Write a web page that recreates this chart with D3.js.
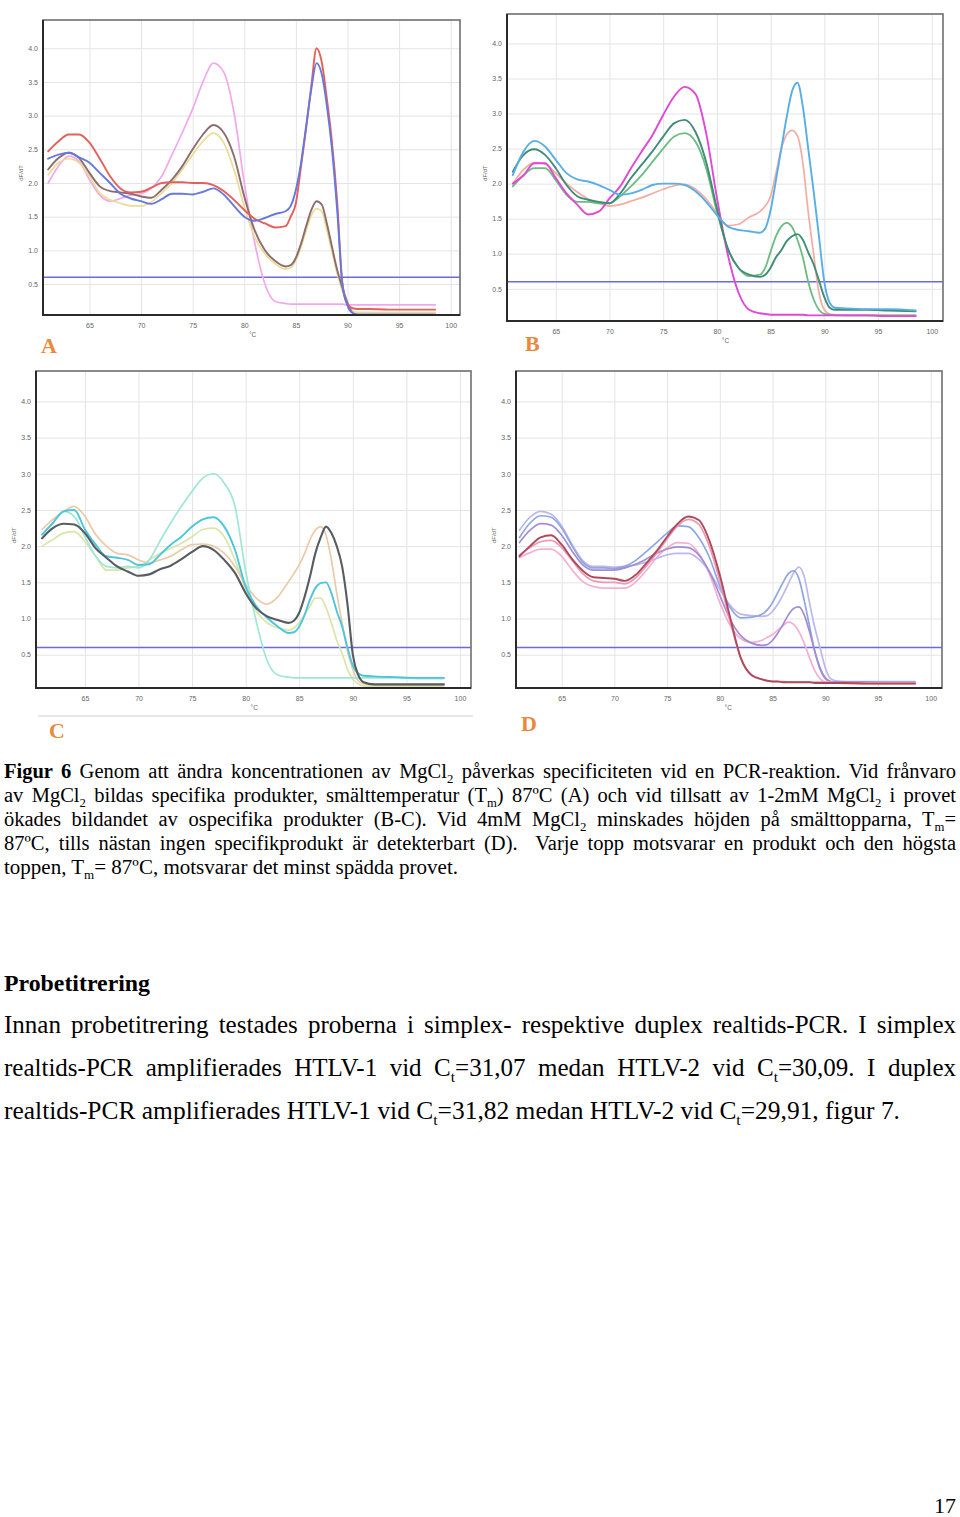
<!DOCTYPE html>
<html><head><meta charset="utf-8">
<script src="https://cdn.jsdelivr.net/npm/d3@7/dist/d3.min.js"></script>
<style>body{margin:0;background:#fff} svg{display:block}</style>
</head><body>
<svg id="page" width="960" height="1517"></svg>
<script>
// ---------- DATA ----------
const temps = [61,62,63,64,65,66,67,68,69,70,71,72,73,74,75,76,77,78,79,80,81,82,83,
  84,84.5,85,85.5,86,86.5,87,87.5,88,88.5,89,89.5,90,90.5,91,92,94,96,98.5];
const xTicks = [65,70,75,80,85,90,95,100];
const yTicks = [0.5,1.0,1.5,2.0,2.5,3.0,3.5,4.0];
const threshold = 0.6;

// Panel A (no MgCl2)
const aRed    = [2.47,2.62,2.72,2.72,2.60,2.36,2.10,1.92,1.86,1.87, 1.93,2.00,2.01,2.01,2.00,2.00,1.97,1.88,1.75,1.60, 1.47,1.40,1.34,
  1.36,1.50,1.70,2.25,2.82,3.45,4.00,3.80,3.25,2.60,1.72,0.52,0.20,0.14,0.13, 0.13,0.12,0.12,0.12];
const aBlue   = [2.36,2.42,2.45,2.38,2.30,2.15,2.00,1.84,1.77,1.73, 1.69,1.76,1.84,1.84,1.83,1.87,1.92,1.83,1.66,1.50, 1.44,1.48,1.54,
  1.58,1.66,1.90,2.30,2.85,3.40,3.78,3.62,3.15,2.50,1.60,0.50,0.18,0.07,0.05, 0.05,0.05,0.05,0.05];
const aBrown  = [2.20,2.37,2.45,2.37,2.15,1.95,1.88,1.86,1.84,1.80, 1.78,1.90,2.05,2.25,2.50,2.72,2.86,2.75,2.40,1.80, 1.30,1.00,0.84,
  0.76,0.78,0.89,1.10,1.36,1.60,1.73,1.68,1.40,1.05,0.71,0.45,0.22,0.07,0.04, 0.04,0.04,0.04,0.04];
const aYellow = [2.12,2.30,2.36,2.30,2.10,1.85,1.75,1.70,1.66,1.66, 1.72,1.85,2.00,2.20,2.42,2.62,2.74,2.60,2.20,1.65, 1.20,0.95,0.80,
  0.72,0.74,0.85,1.05,1.30,1.52,1.62,1.58,1.30,0.98,0.66,0.40,0.20,0.10,0.08, 0.08,0.08,0.08,0.08];
const aPink   = [2.00,2.25,2.40,2.32,2.05,1.82,1.73,1.77,1.82,1.84, 1.92,2.10,2.42,2.75,3.10,3.50,3.78,3.65,3.05,2.00, 1.12,0.50,0.24,
  0.21,0.20,0.20,0.20,0.20,0.20,0.20,0.20,0.20,0.20,0.20,0.20,0.19,0.19,0.19, 0.19,0.19,0.19,0.19];

// Panel B (1 mM MgCl2)
const bBlue    = [2.12,2.46,2.61,2.53,2.34,2.15,2.06,2.03,1.98,1.91, 1.84,1.86,1.91,1.98,2.00,2.00,1.98,1.89,1.74,1.55, 1.39,1.34,1.32,
  1.30,1.36,1.62,2.05,2.50,2.95,3.32,3.44,3.10,2.50,1.90,1.25,0.60,0.30,0.23, 0.22,0.21,0.21,0.19];
const bPeach   = [2.00,2.20,2.30,2.28,2.15,2.00,1.88,1.78,1.72,1.68, 1.70,1.75,1.80,1.86,1.92,1.97,1.99,1.92,1.78,1.58, 1.40,1.42,1.52,
  1.60,1.68,1.82,2.15,2.50,2.70,2.76,2.68,2.30,1.60,1.00,0.45,0.20,0.14,0.13, 0.12,0.12,0.12,0.12];
const bMagenta = [2.00,2.12,2.29,2.29,2.08,1.86,1.70,1.56,1.60,1.79, 1.96,2.22,2.46,2.69,2.98,3.24,3.38,3.28,2.72,1.80, 1.00,0.45,0.20,
  0.15,0.14,0.13,0.13,0.13,0.13,0.13,0.13,0.13,0.12,0.12,0.12,0.12,0.12,0.12, 0.12,0.12,0.11,0.11];
const bGreen   = [1.96,2.12,2.22,2.22,2.05,1.84,1.74,1.74,1.72,1.72, 1.82,1.96,2.12,2.31,2.50,2.67,2.72,2.60,2.22,1.60, 1.08,0.80,0.68,
  0.70,0.80,1.03,1.25,1.39,1.44,1.38,1.20,0.95,0.60,0.35,0.20,0.14,0.13,0.12, 0.12,0.12,0.12,0.12];
const bTeal    = [2.17,2.41,2.49,2.41,2.22,1.98,1.82,1.77,1.74,1.72, 1.86,2.08,2.27,2.46,2.67,2.86,2.91,2.74,2.31,1.65, 1.08,0.80,0.70,
  0.67,0.70,0.80,0.95,1.05,1.18,1.25,1.28,1.20,1.02,0.85,0.62,0.38,0.23,0.20, 0.20,0.20,0.19,0.18];

// Panel C (2 mM MgCl2)
const cGray = [2.11,2.25,2.31,2.30,2.18,1.97,1.84,1.72,1.65,1.59, 1.61,1.68,1.73,1.82,1.92,2.00,1.95,1.81,1.63,1.35, 1.14,1.03,0.98,
  0.94,0.97,1.08,1.30,1.58,1.90,2.12,2.27,2.18,2.00,1.72,1.20,0.50,0.22,0.12, 0.09,0.09,0.09,0.09];
const cCyan = [2.16,2.32,2.48,2.50,2.23,2.02,1.86,1.84,1.81,1.74, 1.75,1.88,2.02,2.13,2.27,2.37,2.40,2.27,1.95,1.44, 1.17,1.01,0.89,
  0.80,0.81,0.89,1.05,1.26,1.42,1.49,1.50,1.35,1.10,0.89,0.60,0.35,0.24,0.21, 0.20,0.19,0.18,0.18];
const cMint = [2.16,2.32,2.48,2.41,2.13,1.86,1.72,1.70,1.72,1.70, 1.81,2.07,2.32,2.55,2.76,2.94,3.00,2.87,2.55,1.65, 0.95,0.42,0.22,
  0.19,0.18,0.18,0.18,0.18,0.18,0.18,0.18,0.18,0.18,0.18,0.18,0.18,0.18,0.18, 0.18,0.18,0.17,0.17];
const cTan  = [2.23,2.37,2.48,2.55,2.41,2.16,2.00,1.90,1.88,1.81, 1.77,1.81,1.86,1.95,2.02,2.03,2.00,1.90,1.72,1.47, 1.28,1.20,1.30,
  1.51,1.62,1.74,1.90,2.09,2.22,2.27,2.15,1.81,1.35,0.94,0.55,0.30,0.14,0.10, 0.08,0.08,0.08,0.08];
const cLime = [2.00,2.09,2.18,2.20,2.06,1.86,1.67,1.67,1.70,1.72, 1.81,1.90,1.97,2.04,2.13,2.23,2.25,2.13,1.81,1.40, 1.10,0.94,0.87,
  0.84,0.87,0.94,1.05,1.17,1.28,1.28,1.15,0.94,0.70,0.52,0.30,0.16,0.10,0.07, 0.06,0.06,0.06,0.06];

// Panel D (4 mM MgCl2)
const dLav    = [2.22,2.40,2.48,2.44,2.28,2.02,1.80,1.72,1.72,1.71, 1.72,1.74,1.78,1.83,1.88,1.90,1.90,1.82,1.65,1.40, 1.18,1.06,1.04,
  1.03,1.04,1.10,1.20,1.33,1.48,1.63,1.71,1.58,1.22,0.88,0.60,0.32,0.17,0.14, 0.13,0.13,0.13,0.13];
const dBlue   = [2.12,2.32,2.42,2.40,2.25,2.00,1.78,1.70,1.70,1.69, 1.72,1.80,1.92,2.05,2.18,2.28,2.27,2.12,1.85,1.45, 1.15,1.01,1.02,
  1.06,1.12,1.22,1.36,1.50,1.62,1.66,1.55,1.25,0.90,0.55,0.30,0.17,0.13,0.12, 0.12,0.12,0.12,0.12];
const dPurple = [2.05,2.22,2.31,2.29,2.15,1.93,1.74,1.67,1.67,1.67, 1.70,1.75,1.82,1.90,1.96,1.99,1.98,1.88,1.65,1.32, 0.98,0.76,0.66,
  0.63,0.64,0.70,0.80,0.92,1.05,1.14,1.16,1.05,0.82,0.55,0.32,0.18,0.13,0.12, 0.12,0.12,0.11,0.11];
const dRed    = [1.86,2.00,2.12,2.15,2.02,1.82,1.66,1.57,1.56,1.55, 1.52,1.60,1.76,1.93,2.13,2.31,2.41,2.36,2.08,1.60, 1.00,0.45,0.22,
  0.16,0.14,0.13,0.13,0.12,0.12,0.12,0.12,0.12,0.12,0.11,0.11,0.11,0.11,0.11, 0.11,0.10,0.10,0.10];
const dRose   = [1.88,1.98,2.06,2.08,1.98,1.80,1.62,1.52,1.50,1.50, 1.48,1.56,1.72,1.90,2.10,2.28,2.37,2.30,2.00,1.52, 0.95,0.45,0.22,
  0.16,0.14,0.13,0.13,0.13,0.12,0.12,0.12,0.12,0.12,0.12,0.12,0.12,0.12,0.11, 0.11,0.11,0.11,0.11];
const dPink   = [1.84,1.91,1.96,1.96,1.86,1.67,1.51,1.44,1.42,1.42, 1.42,1.50,1.66,1.84,1.98,2.05,2.04,1.90,1.62,1.22, 0.90,0.72,0.67,
  0.70,0.74,0.78,0.84,0.90,0.95,0.92,0.82,0.66,0.46,0.28,0.17,0.12,0.11,0.11, 0.10,0.10,0.10,0.10];

const panelLetters = ["A","B","C","D"];

// ---------- LAYOUT / STYLE ----------
const yDom = [0.04, 4.42];
const panels = [
  {letter:panelLetters[0], l:43, t:20, r:460, b:315, xDom:[60.5,100.9], lx:41, ly:353,
   series:[[aPink,"#f2a8ec",1.7],[aYellow,"#eadc96",1.7],[aBrown,"#8c6c6e",1.9],[aRed,"#e65e58",1.9],[aBlue,"#6678de",1.9]]},
  {letter:panelLetters[1], l:507, t:14, r:943, b:321, xDom:[60.46,101.05], lx:525, ly:351,
   series:[[bPeach,"#f4aca2",1.7],[bGreen,"#6cbc80",1.8],[bMagenta,"#e048d6",1.9],[bTeal,"#3f8c76",1.9],[bBlue,"#5aaee6",1.9]]},
  {letter:panelLetters[2], l:36, t:371, r:471, b:688, xDom:[60.43,101.03], lx:49, ly:738,
   series:[[cLime,"#d8e6aa",1.7],[cTan,"#eccaa8",1.7],[cMint,"#9ee6d6",1.7],[cCyan,"#4cc6dc",1.9],[cGray,"#565b60",2.1]]},
  {letter:panelLetters[3], l:516, t:371, r:942, b:688, xDom:[60.67,101.07], lx:521, ly:731,
   series:[[dPink,"#f4b0d2",1.7],[dLav,"#bcb8ee",1.7],[dBlue,"#8ea6e2",1.7],[dPurple,"#a48cd2",1.7],[dRose,"#ec9ab6",1.7],[dRed,"#b04a5a",1.9]]}
];

const svg = d3.select("#page");
const defs = svg.append("defs");
defs.append("filter").attr("id", "soft").attr("x", "-5%").attr("y", "-5%").attr("width", "110%").attr("height", "110%")
  .append("feGaussianBlur").attr("stdDeviation", 0.35);

panels.forEach(p => {
  const g = svg.append("g");
  const x = d3.scaleLinear().domain(p.xDom).range([p.l, p.r]);
  const y = d3.scaleLinear().domain(yDom).range([p.b, p.t]);
  const H = p.b - p.t, W = p.r - p.l;

  // grid
  g.append("g").attr("transform", `translate(0,${p.b})`)
    .call(d3.axisBottom(x).tickValues(xTicks).tickSize(-H).tickFormat(""))
    .call(s => { s.select(".domain").remove(); s.selectAll("line").attr("stroke", "#e4e4e4"); });
  g.append("g").attr("transform", `translate(${p.l},0)`)
    .call(d3.axisLeft(y).tickValues(yTicks).tickSize(-W).tickFormat(""))
    .call(s => { s.select(".domain").remove(); s.selectAll("line").attr("stroke", "#e4e4e4"); });

  // threshold
  g.append("line").attr("x1", p.l).attr("x2", p.r)
    .attr("y1", y(threshold)).attr("y2", y(threshold))
    .attr("stroke", "#6a6ade").attr("stroke-width", 1.6);

  // curves
  const cg = g.append("g").attr("filter", "url(#soft)");
  const line = d3.line().x((d, i) => x(temps[i])).y(d => y(d)).curve(d3.curveMonotoneX);
  p.series.forEach(([vals, col, w]) => {
    cg.append("path").attr("d", line(vals)).attr("fill", "none")
      .attr("stroke", col).attr("stroke-width", w)
      .attr("stroke-linejoin", "round").attr("stroke-linecap", "round");
  });

  // frame
  g.append("rect").attr("x", p.l).attr("y", p.t).attr("width", W).attr("height", H)
    .attr("fill", "none").attr("stroke", "#6e6e6e").attr("stroke-width", 1.6);
  g.append("path").attr("d", `M${p.l},${p.t}V${p.b}H${p.r}`)
    .attr("fill", "none").attr("stroke", "#2a2a2a").attr("stroke-width", 2);

  // tick labels
  g.append("g").attr("transform", `translate(0,${p.b})`)
    .call(d3.axisBottom(x).tickValues(xTicks).tickSize(0).tickPadding(8).tickFormat(d3.format("d")))
    .call(s => { s.select(".domain").remove();
      s.selectAll("text").attr("fill", "#666").style("font-size", "7px").style("font-family", "Liberation Sans"); });
  g.append("g").attr("transform", `translate(${p.l},0)`)
    .call(d3.axisLeft(y).tickValues(yTicks).tickSize(0).tickPadding(5).tickFormat(d3.format(".1f")))
    .call(s => { s.select(".domain").remove();
      s.selectAll("text").attr("fill", "#666").style("font-size", "7px").style("font-family", "Liberation Sans"); });

  // axis titles
  g.append("text").attr("transform", `translate(${p.l - 20},${y(2.15)}) rotate(-90)`)
    .attr("text-anchor", "middle").attr("fill", "#666")
    .style("font-size", "6px").style("font-family", "Liberation Sans").text("dF/dT");
  g.append("text").attr("x", x(80.8)).attr("y", p.b + 22)
    .attr("text-anchor", "middle").attr("fill", "#666")
    .style("font-size", "6.5px").style("font-family", "Liberation Sans").text("°C");

  // panel letter
  g.append("text").attr("x", p.lx).attr("y", p.ly)
    .attr("fill", "#e8893c").style("font-size", "22px").style("font-weight", "bold")
    .style("font-family", "Liberation Serif").text(p.letter);
});

// extra separator line under panel C
svg.append("line").attr("x1", 38).attr("x2", 473).attr("y1", 716).attr("y2", 716)
  .attr("stroke", "#cfcfcf").attr("stroke-width", 1);

// ---------- TEXT ----------
function textLine(segs, x, y, fs, target, mode, bold) {
  const t = svg.append("text").attr("x", x).attr("y", y)
    .style("font-family", "'Liberation Serif', 'Times New Roman', serif")
    .style("font-size", fs + "px").style("white-space", "pre").attr("fill", "#000");
  if (bold) t.style("font-weight", "bold");
  let shifted = false;
  const sh = fs * 0.22;
  segs.forEach(s => {
    const seg = (typeof s === "string") ? {t: s} : s;
    const ts = t.append("tspan").text(seg.t);
    if (seg.b) ts.style("font-weight", "bold");
    if (seg.sub) { ts.style("font-size", (fs * 0.62) + "px").attr("dy", sh); shifted = true; }
    else if (shifted) { ts.attr("dy", -sh); shifted = false; }
  });
  if (target) {
    const w0 = t.node().getComputedTextLength();
    const full = segs.map(s => typeof s === "string" ? s : s.t).join("");
    const n = (full.match(/ /g) || []).length;
    if (mode === "justify" && n > 0) {
      t.attr("word-spacing", (target - w0) / n);
      const w1 = t.node().getComputedTextLength();
      if (Math.abs(w1 - target) > 2) {
        t.attr("word-spacing", null).attr("textLength", target).attr("lengthAdjust", "spacing");
      }
    } else if (Math.abs(w0 - target) > 1) {
      t.attr("textLength", target).attr("lengthAdjust", "spacingAndGlyphs");
    }
  }
  return t;
}

const capFs = 20.5;
const sub = s => ({t: s, sub: true});
textLine([{t:"Figur 6", b:true}, " Genom att ändra koncentrationen av MgCl", sub("2"), " påverkas specificiteten vid en PCR-reaktion. Vid frånvaro"], 4, 778, capFs, 952, "justify");
textLine(["av MgCl", sub("2"), " bildas specifika produkter, smälttemperatur (T", sub("m"), ") 87ºC (A) och vid tillsatt av 1-2mM MgCl", sub("2"), " i provet"], 4, 802, capFs, 952, "justify");
textLine(["ökades bildandet av ospecifika produkter (B-C). Vid 4mM MgCl", sub("2"), " minskades höjden på smälttopparna, T", sub("m"), "="], 4, 826, capFs, 952, "justify");
textLine(["87ºC, tills nästan ingen specifikprodukt är detekterbart (D).  Varje topp motsvarar en produkt och den högsta"], 4, 850, capFs, 952, "justify");
textLine(["toppen, T", sub("m"), "= 87ºC, motsvarar det minst spädda provet."], 4, 874, capFs, 454, "fit");

textLine(["Probetitrering"], 4, 991, 23, 146, "fit", true);

const parFs = 25;
textLine(["Innan probetitrering testades proberna i simplex- respektive duplex realtids-PCR. I simplex"], 4, 1033, parFs, 952, "justify");
textLine(["realtids-PCR amplifierades HTLV-1 vid C", sub("t"), "=31,07 medan HTLV-2 vid C", sub("t"), "=30,09. I duplex"], 4, 1076, parFs, 952, "justify");
textLine(["realtids-PCR amplifierades HTLV-1 vid C", sub("t"), "=31,82 medan HTLV-2 vid C", sub("t"), "=29,91, figur 7."], 4, 1119, parFs, 896, "fit");

svg.append("text").attr("x", 956).attr("y", 1513).attr("text-anchor", "end")
  .style("font-family", "'Liberation Serif', serif").style("font-size", "22px").text("17");
</script>
</body></html>
